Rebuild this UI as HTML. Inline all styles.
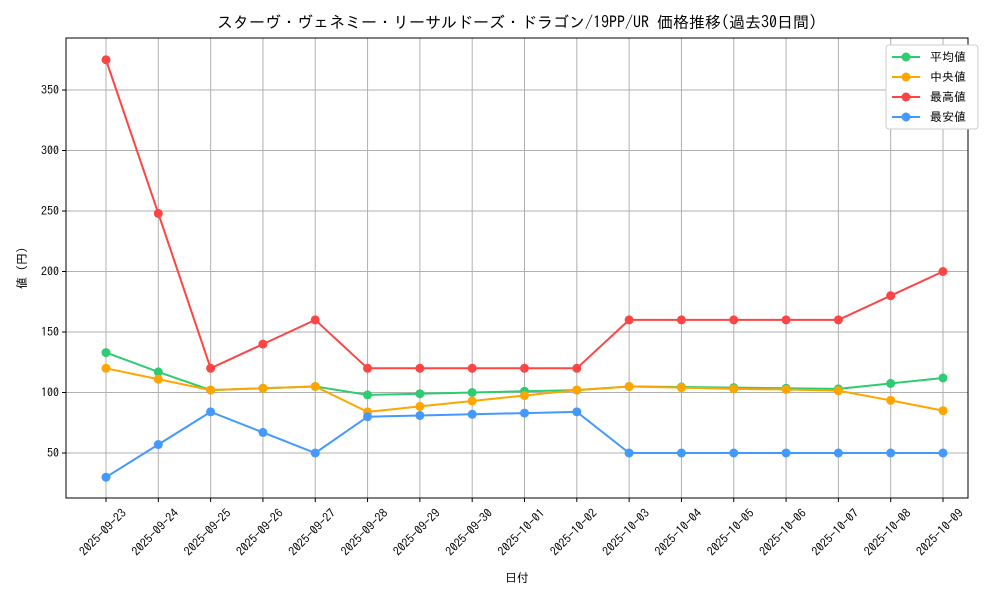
<!DOCTYPE html>
<html><head><meta charset="utf-8"><style>
body{margin:0;background:#fff;}
svg{display:block;font-family:"IPAGothic","Noto Sans CJK JP",monospace;}
</style></head><body>
<svg id="chart" width="1000" height="600"></svg>
<script>
const dates=["2025-09-23","2025-09-24","2025-09-25","2025-09-26","2025-09-27","2025-09-28","2025-09-29","2025-09-30","2025-10-01","2025-10-02","2025-10-03","2025-10-04","2025-10-05","2025-10-06","2025-10-07","2025-10-08","2025-10-09"];
const avgValues=[133,117,102,103.5,105,98,99,100,101,102,105,104.5,104,103.5,103,107.5,112];
const medianValues=[120,111,102,103.5,105,84,88.5,93,97.5,102,105,104,103,102.5,101.5,93.5,85];
const maxValues=[375,248,120,140,160,120,120,120,120,120,160,160,160,160,160,180,200];
const minValues=[30,57,84,67,50,80,81,82,83,84,50,50,50,50,50,50,50];
const yTicks=[50,100,150,200,250,300,350];
const seriesNames=["平均値","中央値","最高値","最安値"];

const NS="http://www.w3.org/2000/svg";
const svg=document.getElementById('chart');
const L=66,R=968,T=38,B=498;
function xs(i){return 106+i*(943-106)/(dates.length-1);}
function ys(v){return 453-(v-50)*(453-90)/300;}
function mk(tag,attrs,parent){const e=document.createElementNS(NS,tag);for(const k in attrs)e.setAttribute(k,attrs[k]);(parent||svg).appendChild(e);return e;}

const title=mk('text',{x:(L+R)/2,y:28,'text-anchor':'middle','font-size':16,fill:'#000'});


title.textContent='スターヴ・ヴェネミー・リーサルドーズ・ドラゴン/19PP/UR 価格推移(過去30日間)';

dates.forEach((d,i)=>{
  const g=mk('line',{x1:xs(i),x2:xs(i),y1:T,y2:B,stroke:'#b0b0b0','stroke-width':1});
  
  
  mk('line',{x1:xs(i),x2:xs(i),y1:B,y2:B+4,stroke:'#000'});
  const t=mk('text',{x:0,y:0,'text-anchor':'end','font-size':12,transform:`translate(${xs(i)+15},${B+10}) rotate(-45)`,dy:'0.7em'});
  
  
  t.textContent=d;
});
yTicks.forEach(v=>{
  const g=mk('line',{x1:L,x2:R,y1:ys(v),y2:ys(v),stroke:'#b0b0b0','stroke-width':1});
  
  
  mk('line',{x1:L-4,x2:L,y1:ys(v),y2:ys(v),stroke:'#000'});
  const t=mk('text',{x:L-7,y:ys(v)+4,'text-anchor':'end','font-size':12});
  
  
  t.textContent=v;
});
const frame=mk('rect',{x:L,y:T,width:R-L,height:B-T,fill:'none',stroke:'#000','stroke-width':1});



const xt=mk('text',{x:(L+R)/2,y:582,'text-anchor':'middle','font-size':12});


xt.textContent='日付';
const yt=mk('text',{x:0,y:0,'text-anchor':'middle','font-size':12,transform:`translate(26,${(T+B)/2}) rotate(-90)`});


yt.textContent='値 (円)';

const series=[[avgValues,'#2ecc71','avg'],[medianValues,'#ffa500','median'],[maxValues,'#ff4444','max'],[minValues,'#4499ff','min']];
series.forEach(([vals,col,key])=>{
  const p=mk('polyline',{points:vals.map((v,i)=>xs(i)+','+ys(v)).join(' '),fill:'none',stroke:col,'stroke-width':2});
  
  
  vals.forEach((v,i)=>{
    const c=mk('circle',{cx:xs(i),cy:ys(v),r:4.5,fill:col});
    
    
  });
});

const lg=mk('g',{});


mk('rect',{x:886,y:45,width:92,height:84,rx:3,fill:'#fff',stroke:'#ccc'},lg);
series.forEach(([v,col,key],i)=>{
  const y=57+i*20;
  const e=mk('g',{},lg);
  
  
  mk('line',{x1:892,x2:920,y1:y,y2:y,stroke:col,'stroke-width':2},e);
  mk('circle',{cx:906,cy:y,r:4.5,fill:col},e);
  const t=mk('text',{x:930,y:y+4,'font-size':12},e);
  t.textContent=seriesNames[i];
});
</script>
</body></html>
